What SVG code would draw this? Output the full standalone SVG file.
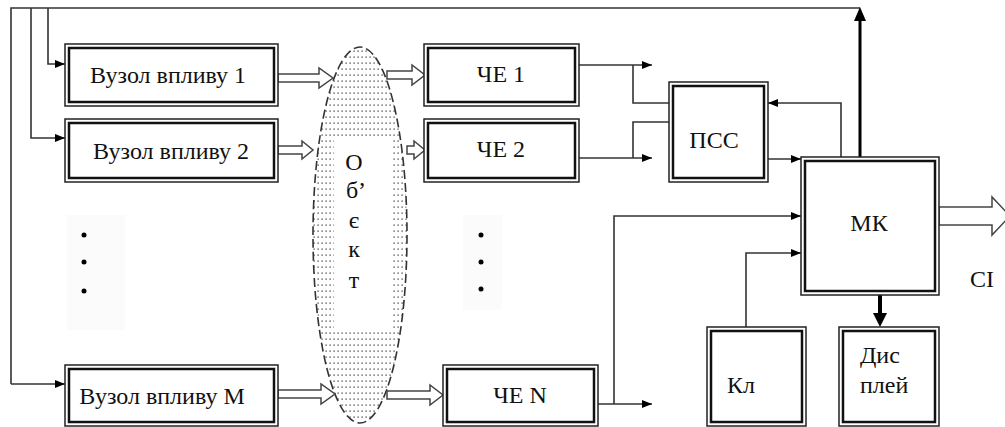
<svg xmlns="http://www.w3.org/2000/svg" width="1005" height="427" viewBox="0 0 1005 427">
<style>
text{font-family:"Liberation Serif","Times New Roman",serif;font-size:24px;fill:#111}
.c{text-anchor:middle}
.bo{fill:#fff;stroke:#222;stroke-width:1.5}
.bi{fill:none;stroke:#111;stroke-width:2.5}
.ln{fill:none;stroke:#333;stroke-width:1.6}
.hol{fill:#fff;stroke:#444;stroke-width:1.5}
.dot{fill:#000}
</style>
<defs>
<marker id="ah" viewBox="0 0 10 10" refX="10" refY="5" markerWidth="10" markerHeight="10" markerUnits="userSpaceOnUse" orient="auto">
<path d="M0,1 L10,5 L0,9 Z" fill="#000"/>
</marker>
<pattern id="dots" width="4" height="6" patternUnits="userSpaceOnUse">
<rect x="1.5" y="2.5" width="1.2" height="1.2" fill="#222"/>
</pattern>
</defs>
<rect width="1005" height="427" fill="#fff"/>
<rect x="67" y="215" width="58" height="115" fill="#fbfbfb"/>
<rect x="463" y="215" width="39" height="95" fill="#fbfbfb"/>

<g id="object">
<ellipse cx="360" cy="235" rx="47" ry="188" fill="#fff"/>
<ellipse cx="360" cy="235" rx="47" ry="188" fill="url(#dots)"/>
<rect x="334" y="136" width="58" height="192" fill="#fff"/>
<ellipse cx="360" cy="235" rx="47" ry="188" fill="none" stroke="#333" stroke-width="1.6" stroke-dasharray="9,4"/>
<text class="c" x="354" y="170" font-size="22">О</text>
<text class="c" x="356" y="198" font-size="22">б’</text>
<text class="c" x="354" y="228" font-size="22">є</text>
<text class="c" x="354" y="257" font-size="22">к</text>
<text class="c" x="354" y="288" font-size="22">т</text>
</g>

<g id="connectors">
<polyline class="ln" points="11,384 11,8 860,8" stroke-width="2"/>
<polyline class="ln" points="31,8 31,138 65,138" marker-end="url(#ah)"/>
<polyline class="ln" points="48,8 48,64 65,64" marker-end="url(#ah)"/>
<line class="ln" x1="11" y1="384" x2="65" y2="384" marker-end="url(#ah)"/>
<path class="hol" d="M278,74 H319 V68 L333,78 L319,88 V82 H278 Z"/>
<path class="hol" d="M278,146 H302 V141 L313,150 L302,159 V154 H278 Z"/>
<path class="hol" d="M278,390 H321 V384 L335,394 L321,404 V398 H278 Z"/>
<path class="hol" d="M387,71 H412 V65 L425,75 L412,85 V79 H387 Z"/>
<path class="hol" d="M407,146 H414 V141 L425,150 L414,159 V154 H407 Z"/>
<path class="hol" d="M387,391 H430 V385 L443,395 L430,405 V399 H387 Z"/>
<line class="ln" x1="579" y1="65" x2="652" y2="65" marker-end="url(#ah)"/>
<polyline class="ln" points="633,65 633,103 670,103"/>
<line class="ln" x1="579" y1="158" x2="652" y2="158" marker-end="url(#ah)"/>
<polyline class="ln" points="633,158 633,122 670,122"/>
<line class="ln" x1="768" y1="159" x2="801" y2="159" marker-end="url(#ah)"/>
<polyline class="ln" points="841,157 841,103 768,103" marker-end="url(#ah)"/>
<line x1="860" y1="157" x2="860" y2="20" stroke="#000" stroke-width="3"/>
<path d="M854,21 L860,7 L866,21 Z" fill="#000"/>
<line class="ln" x1="598" y1="404" x2="652" y2="404" marker-end="url(#ah)"/>
<polyline class="ln" points="614,404 614,216 801,216" marker-end="url(#ah)"/>
<polyline class="ln" points="746,327 746,253 801,253" marker-end="url(#ah)"/>
<line x1="880" y1="295" x2="880" y2="314" stroke="#000" stroke-width="4"/>
<path d="M873,313 L887,313 L880,327 Z" fill="#000"/>
<path class="hol" d="M939,207 H992 V197 L1010,216 L992,235 V225 H939 Z"/>
</g>

<g id="vuzol1">
<rect class="bo" x="65" y="44" width="213" height="62"/>
<rect class="bi" x="69" y="48" width="205" height="54"/>
<text class="c" x="168" y="83">Вузол впливу 1</text>
</g>
<g id="vuzol2">
<rect class="bo" x="65" y="119" width="213" height="63"/>
<rect class="bi" x="69" y="123" width="205" height="55"/>
<text class="c" x="171" y="159">Вузол впливу 2</text>
</g>
<g id="vuzolM">
<rect class="bo" x="65" y="365" width="213" height="61"/>
<rect class="bi" x="69" y="369" width="205" height="53"/>
<text class="c" x="162" y="404">Вузол впливу М</text>
</g>
<g id="dots-left">
<circle class="dot" cx="84" cy="235" r="2.5"/>
<circle class="dot" cx="84" cy="262" r="2.5"/>
<circle class="dot" cx="84" cy="291" r="2.5"/>
</g>
<g id="che1">
<rect class="bo" x="424" y="44" width="155" height="62"/>
<rect class="bi" x="428" y="48" width="147" height="54"/>
<text class="c" x="501" y="82">ЧЕ 1</text>
</g>
<g id="che2">
<rect class="bo" x="424" y="119" width="155" height="63"/>
<rect class="bi" x="428" y="123" width="147" height="55"/>
<text class="c" x="501" y="157">ЧЕ 2</text>
</g>
<g id="cheN">
<rect class="bo" x="443" y="365" width="155" height="61"/>
<rect class="bi" x="447" y="369" width="147" height="53"/>
<text class="c" x="520" y="403">ЧЕ N</text>
</g>
<g id="dots-mid">
<circle class="dot" cx="481" cy="235" r="2.5"/>
<circle class="dot" cx="481" cy="262" r="2.5"/>
<circle class="dot" cx="481" cy="289" r="2.5"/>
</g>
<g id="pss">
<rect class="bo" x="669" y="82" width="99" height="100"/>
<rect class="bi" x="673" y="86" width="91" height="92"/>
<text class="c" x="714" y="148">ПСС</text>
</g>
<g id="mk">
<rect class="bo" x="801" y="157" width="138" height="138"/>
<rect class="bi" x="805" y="161" width="130" height="130"/>
<text class="c" x="869" y="231">МК</text>
</g>
<g id="si">
<text x="970" y="287">СІ</text>
</g>
<g id="kl">
<rect class="bo" x="707" y="327" width="99" height="99"/>
<rect class="bi" x="711" y="331" width="91" height="91"/>
<text x="727" y="393">Кл</text>
</g>
<g id="display">
<rect class="bo" x="839" y="327" width="100" height="99"/>
<rect class="bi" x="843" y="331" width="92" height="91"/>
<text x="860" y="363">Дис</text>
<text x="860" y="393">плей</text>
</g>
</svg>
